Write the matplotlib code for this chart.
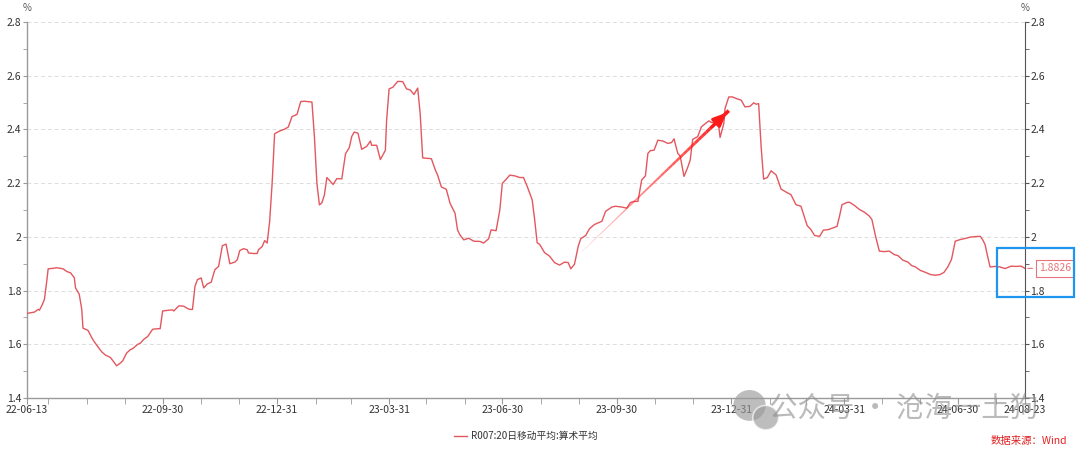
import numpy as np
import pandas as pd
import matplotlib
matplotlib.use('Agg')
import matplotlib.pyplot as plt
import matplotlib.dates as mdates
from matplotlib.ticker import MultipleLocator, FuncFormatter
from matplotlib.collections import LineCollection
from matplotlib.patches import Rectangle, Ellipse

plt.rcParams['font.family'] = ['Noto Sans CJK SC', 'DejaVu Sans']

# R007 20-day moving average
start_date = '2022-06-13'
day_offset = [
    0, 6, 9, 10, 12, 14, 16, 17, 21, 24, 29, 32, 35, 38, 39, 42, 44, 45, 49, 52,
    54, 56, 60, 63, 67, 69, 72, 75, 77, 80, 83, 85, 89, 91, 94, 97, 101, 105, 107, 109,
    114, 117, 118, 122, 126, 129, 131, 133, 135, 137, 140, 142, 145, 148, 151, 154, 157, 160, 163, 167,
    169, 171, 174, 177, 178, 182, 185, 186, 189, 191, 193, 195, 197, 199, 203, 207, 210, 213, 217, 220,
    223, 229, 231, 233, 235, 237, 239, 241, 243, 246, 249, 253, 256, 259, 261, 263, 266, 269, 273, 276,
    277, 281, 284, 288, 289, 291, 294, 298, 302, 305, 308, 311, 314, 316, 318, 325, 328, 330, 333, 337,
    340, 344, 346, 348, 351, 355, 359, 364, 367, 371, 373, 377, 380, 382, 385, 388, 392, 396, 399, 402,
    406, 408, 410, 412, 416, 420, 424, 428, 432, 435, 437, 440, 443, 445, 449, 452, 456, 462, 465, 470,
    473, 478, 482, 485, 488, 491, 494, 497, 499, 501, 504, 507, 511, 515, 518, 520, 523, 525, 528, 531,
    533, 535, 539, 542, 548, 550, 554, 556, 557, 560, 561, 564, 567, 570, 574, 577, 581, 584, 586, 588,
    590, 592, 595, 598, 602, 606, 610, 614, 618, 622, 627, 630, 633, 637, 640, 644, 647, 651, 653, 655,
    659, 661, 665, 669, 673, 677, 679, 682, 685, 689, 693, 697, 700, 704, 708, 711, 714, 718, 722, 726,
    730, 734, 737, 740, 743, 746, 750, 754, 758, 762, 766, 768, 770, 772, 774, 778, 782, 786, 791, 795,
    799, 802,
]
r007_ma20 = [
    1.715, 1.720, 1.730, 1.727, 1.745, 1.767, 1.840, 1.881, 1.883, 1.885, 1.881, 1.871, 1.866, 1.848, 1.810, 1.786, 1.730, 1.660, 1.652, 1.625,
    1.610, 1.597, 1.572, 1.560, 1.551, 1.539, 1.520, 1.530, 1.539, 1.567, 1.580, 1.584, 1.600, 1.604, 1.619, 1.629, 1.656, 1.658, 1.658, 1.724,
    1.727, 1.728, 1.724, 1.743, 1.742, 1.733, 1.730, 1.730, 1.816, 1.841, 1.847, 1.810, 1.825, 1.831, 1.878, 1.890, 1.967, 1.973, 1.900, 1.906,
    1.915, 1.949, 1.956, 1.952, 1.940, 1.938, 1.938, 1.952, 1.964, 1.986, 1.977, 2.057, 2.199, 2.384, 2.394, 2.401, 2.409, 2.448, 2.456, 2.504,
    2.505, 2.502, 2.372, 2.199, 2.119, 2.127, 2.156, 2.221, 2.211, 2.195, 2.217, 2.216, 2.310, 2.332, 2.374, 2.390, 2.386, 2.326, 2.337, 2.357,
    2.341, 2.341, 2.288, 2.322, 2.433, 2.551, 2.557, 2.579, 2.578, 2.551, 2.547, 2.530, 2.554, 2.458, 2.294, 2.291, 2.251, 2.230, 2.186, 2.177,
    2.125, 2.088, 2.026, 2.007, 1.989, 1.995, 1.984, 1.983, 1.977, 1.993, 2.026, 2.023, 2.100, 2.199, 2.214, 2.230, 2.227, 2.221, 2.221, 2.188,
    2.138, 2.064, 1.978, 1.972, 1.941, 1.928, 1.904, 1.895, 1.906, 1.904, 1.881, 1.898, 1.965, 1.993, 2.005, 2.030, 2.046, 2.058, 2.095, 2.111,
    2.114, 2.111, 2.107, 2.128, 2.132, 2.132, 2.212, 2.227, 2.311, 2.321, 2.323, 2.360, 2.357, 2.348, 2.351, 2.365, 2.311, 2.300, 2.225, 2.259,
    2.286, 2.363, 2.373, 2.410, 2.432, 2.426, 2.425, 2.410, 2.370, 2.422, 2.478, 2.521, 2.521, 2.515, 2.509, 2.484, 2.486, 2.499, 2.494, 2.496,
    2.336, 2.215, 2.221, 2.246, 2.231, 2.178, 2.167, 2.157, 2.120, 2.114, 2.042, 2.027, 2.005, 2.002, 2.025, 2.027, 2.032, 2.039, 2.077, 2.120,
    2.128, 2.129, 2.117, 2.102, 2.092, 2.077, 2.065, 2.002, 1.947, 1.945, 1.947, 1.934, 1.930, 1.913, 1.906, 1.893, 1.888, 1.875, 1.868, 1.860,
    1.857, 1.860, 1.868, 1.888, 1.916, 1.984, 1.990, 1.994, 1.999, 2.001, 2.002, 1.990, 1.971, 1.928, 1.888, 1.890, 1.888, 1.882, 1.891, 1.890,
    1.891, 1.8826,
]
tick_dates = ['2022-06-13', '2022-09-30', '2022-12-31', '2023-03-31', '2023-06-30',
              '2023-09-30', '2023-12-31', '2024-03-31', '2024-06-30', '2024-08-23']
series_name = 'R007:20日移动平均:算术平均'
last_value = 1.8826
# trend arrow drawn on the chart (date, value)
arrow_from = ('2023-09-02', 1.945)
arrow_to = ('2023-12-29', 2.47)

line_color = '#E3575E'
grid_color = '#DDDDDD'
spine_color = '#9A9A9A'
text_color = '#333333'

dates = pd.Timestamp(start_date) + pd.to_timedelta(day_offset, unit='D')

fig = plt.figure(figsize=(10.8, 4.53), dpi=100)
ax = fig.add_axes([0.025, 0.1214, 0.924, 0.830])
ax.plot(dates, r007_ma20, color=line_color, lw=1.0, zorder=3)

ax.set_xlim(pd.Timestamp(tick_dates[0]), pd.Timestamp(tick_dates[-1]))
ax.set_ylim(1.4, 2.8)

# x axis
ax.set_xticks(pd.to_datetime(tick_dates))
ax.xaxis.set_major_formatter(mdates.DateFormatter('%y-%m-%d'))
ax.set_xticks(pd.date_range('2022-06-30', '2024-07-31', freq='ME'), minor=True)
ax.tick_params(axis='x', which='both', length=4, color=spine_color,
               labelsize=7.5, labelcolor=text_color, pad=1)

# y axis
ax.yaxis.set_major_locator(MultipleLocator(0.2))
ax.yaxis.set_minor_locator(MultipleLocator(0.1))
fmt = FuncFormatter(lambda v, p: f'{v:g}')
ax.yaxis.set_major_formatter(fmt)
ax.tick_params(axis='y', which='both', length=3, color=spine_color,
               labelsize=7.5, labelcolor=text_color, pad=1)
ax.grid(axis='y', which='major', color=grid_color, ls=(0, (4, 3)), lw=0.7)

ax.spines['top'].set_visible(False)
ax.spines['right'].set_visible(False)
for side in ['left', 'bottom']:
    ax.spines[side].set_color(spine_color)
    ax.spines[side].set_linewidth(1.0)

ax2 = ax.twinx()
ax2.set_ylim(1.4, 2.8)
ax2.yaxis.set_major_locator(MultipleLocator(0.2))
ax2.yaxis.set_minor_locator(MultipleLocator(0.1))
ax2.yaxis.set_major_formatter(fmt)
ax2.tick_params(axis='y', which='both', length=3, color='#555555',
                labelsize=7.5, labelcolor=text_color, pad=1)
for side in ['top', 'left', 'bottom']:
    ax2.spines[side].set_visible(False)
ax2.spines['right'].set_color('#555555')

fig.text(0.025, 0.982, '%', fontsize=7, color='#555555', ha='center', va='center')
fig.text(0.949, 0.982, '%', fontsize=7, color='#555555', ha='center', va='center')

# trend arrow with a tapered tail
x0 = mdates.date2num(pd.Timestamp(arrow_from[0]))
x1 = mdates.date2num(pd.Timestamp(arrow_to[0]))
n = 40
xs = np.linspace(x0, x1, n)
ys = np.linspace(arrow_from[1], arrow_to[1], n)
segs = [[(xs[i], ys[i]), (xs[i + 1], ys[i + 1])] for i in range(n - 1)]
widths = np.linspace(0.3, 2.6, n - 1)
alphas = np.linspace(0.2, 1.0, n - 1)
cols = [(1.0, 0.1, 0.1, a) for a in alphas]
ax.add_collection(LineCollection(segs, linewidths=widths, colors=cols, zorder=4))
ax.annotate('', xy=(x1, arrow_to[1]), xytext=(xs[-6], ys[-6]),
            arrowprops=dict(arrowstyle='-|>,head_length=0.8,head_width=0.35',
                            color='#FF1A1A', lw=2.2), zorder=5)

# last value label
ax.annotate(f'{last_value:.4f}', xy=(1.0, last_value), xycoords=('axes fraction', 'data'),
            xytext=(10, 0), textcoords='offset points', fontsize=7.5, color='#E8737A',
            va='center', ha='left',
            bbox=dict(boxstyle='square,pad=0.3', fc='white', ec='#E8737A', lw=0.8),
            arrowprops=dict(arrowstyle='-', color='#E8737A', lw=0.8))

# blue highlight box
fig.patches.append(Rectangle((0.923, 0.3444), 0.0713, 0.108, transform=fig.transFigure,
                             fill=False, ec='#1E96F0', lw=1.6, zorder=10))

# legend
leg = ax.legend([series_name], loc='upper center', bbox_to_anchor=(0.5, -0.065),
                frameon=False, fontsize=7, handlelength=1.4, handletextpad=0.4)
for t in leg.get_texts():
    t.set_color(text_color)

# source
fig.text(0.988, 0.026, '数据来源：Wind', fontsize=7.5, color='#E02020', ha='right', va='center')

# watermark
fig.patches.append(Ellipse((0.694, 0.105), 0.030, 0.068, transform=fig.transFigure,
                           fc='#9A9A9A', ec='none', alpha=0.65, zorder=11))
fig.patches.append(Ellipse((0.709, 0.078), 0.024, 0.054, transform=fig.transFigure,
                           fc='#9A9A9A', ec='white', lw=1.2, alpha=0.65, zorder=12))
fig.text(0.712, 0.098, '公众号 · 沧海一土狗', fontsize=20.5, color='#8C8C8C', alpha=0.6,
         ha='left', va='center', zorder=12)

fig.savefig('out.png', dpi=100)
